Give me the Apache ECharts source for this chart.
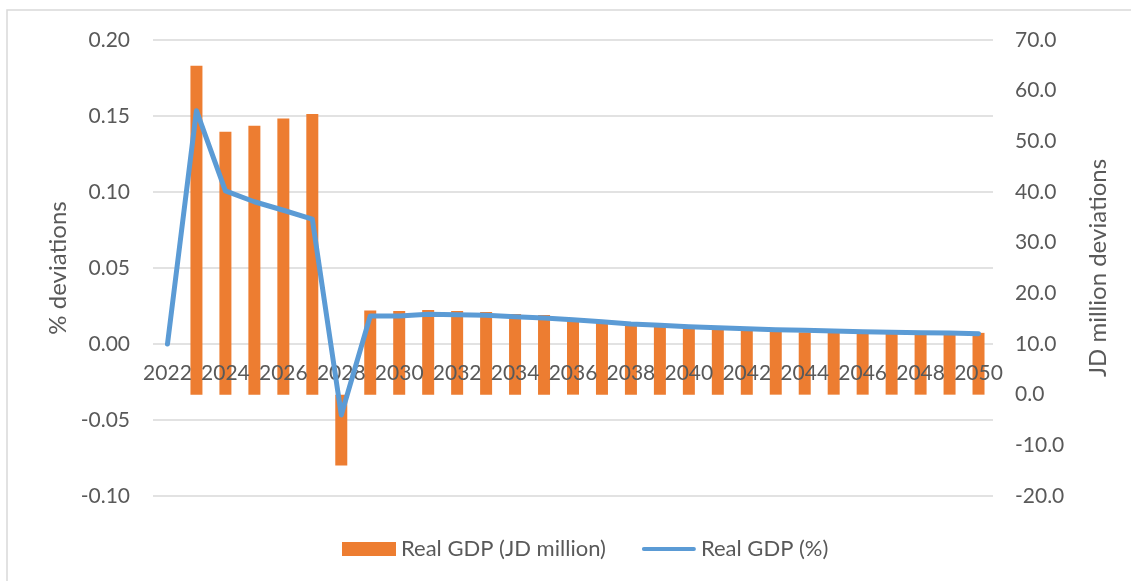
<!DOCTYPE html>
<html>
<head>
<meta charset="utf-8">
<script src="https://cdn.jsdelivr.net/npm/echarts@6/dist/echarts.min.js"></script>
<style>
  html, body { margin: 0; padding: 0; background: #fff; }
  #main { width: 1131px; height: 581px; }
</style>
</head>
<body>
<div id="main"></div>
<script>
var years = [];
for (var y = 2022; y <= 2050; y++) years.push(String(y));

// Real GDP deviation, JD million (right axis)
var gdpJD = [0, 64.9, 51.9, 53.1, 54.5, 55.4, -14.0, 16.6, 16.5, 16.7, 16.5, 16.3, 15.9, 15.7, 15.1,
  14.5, 13.9, 13.5, 13.2, 12.9, 12.7, 12.5, 12.3, 12.2, 12.1, 12.0, 11.9, 11.8, 12.2];

// Real GDP deviation, % (left axis)
var gdpPct = [0.000, 0.1535, 0.1007, 0.0936, 0.0880, 0.0822, -0.0467, 0.0184, 0.0184, 0.0195, 0.0193,
  0.0189, 0.0180, 0.0171, 0.0160, 0.0147, 0.0132, 0.0123, 0.0114, 0.0107, 0.0101, 0.0094, 0.0090,
  0.0086, 0.0081, 0.0077, 0.0074, 0.0072, 0.0068];

var txt = '#595959';
var fnt = 'Lato';

var chart = echarts.init(document.getElementById('main'));
var option = {
  animation: false,
  textStyle: { fontFamily: fnt },
  graphic: [{
    type: 'rect',
    shape: { x: 7, y: 10, width: 1200, height: 650 },
    style: { fill: 'none', stroke: '#d9d9d9', lineWidth: 1.5 },
    silent: true
  }],
  grid: { left: 153, right: 138, top: 40, bottom: 85 },
  legend: {
    bottom: 16,
    left: 337,
    itemWidth: 54,
    itemHeight: 14,
    itemGap: 36,
    textStyle: { color: txt, fontSize: 22, fontFamily: fnt },
    data: [
      { name: 'Real GDP (JD million)', icon: 'rect' },
      { name: 'Real GDP (%)', icon: 'path://M2,0 L54,0 A2,2 0 0 1 54,4 L2,4 A2,2 0 0 1 2,0 Z' }
    ]
  },
  xAxis: {
    type: 'category',
    data: years,
    z: 4,
    axisTick: { show: false },
    axisLine: { show: false },
    // labels sit under the 0.00 line of the left axis, over the bars, as in the original
    axisLabel: { interval: 1, color: txt, fontSize: 21, margin: -133, fontFamily: fnt }
  },
  yAxis: [{
    type: 'value',
    min: -0.1, max: 0.2, interval: 0.05,
    name: '% deviations',
    nameLocation: 'middle',
    nameGap: 80,
    nameRotate: 90,
    nameTextStyle: { color: txt, fontSize: 24, fontFamily: fnt },
    axisLabel: { color: txt, fontSize: 21, margin: 23, formatter: function (v) { return v.toFixed(2); } },
    axisLine: { show: false },
    axisTick: { show: false },
    splitLine: { lineStyle: { color: '#d9d9d9', width: 1.5 } }
  }, {
    type: 'value',
    min: -20, max: 70, interval: 10,
    name: 'JD million deviations',
    nameLocation: 'middle',
    nameGap: 93,
    nameRotate: 90,
    nameTextStyle: { color: txt, fontSize: 24, fontFamily: fnt },
    axisLabel: { color: txt, fontSize: 21, margin: 22, formatter: function (v) { return v.toFixed(1); } },
    axisLine: { show: false },
    axisTick: { show: false },
    splitLine: { show: false }
  }],
  series: [{
    name: 'Real GDP (JD million)',
    type: 'bar',
    yAxisIndex: 1,
    barWidth: 12,
    itemStyle: { color: '#ED7D31' },
    data: gdpJD
  }, {
    name: 'Real GDP (%)',
    type: 'line',
    yAxisIndex: 0,
    symbol: 'none',
    z: 5,
    lineStyle: { color: '#5B9BD5', width: 5, cap: 'round', join: 'round' },
    itemStyle: { color: '#5B9BD5' },
    data: gdpPct
  }]
};
chart.setOption(option);
</script>
</body>
</html>
